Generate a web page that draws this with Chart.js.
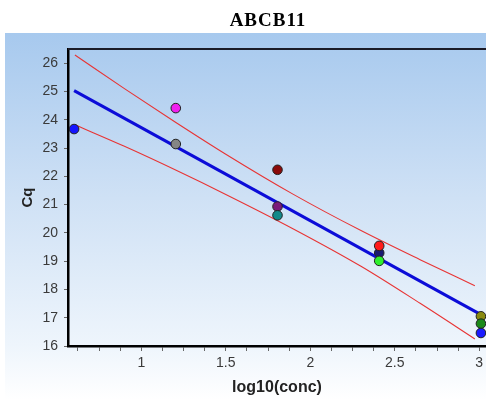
<!DOCTYPE html>
<html>
<head>
<meta charset="utf-8">
<script src="https://cdn.jsdelivr.net/npm/chart.js@4.4.1/dist/chart.umd.min.js"></script>
<style>
  html, body { margin: 0; padding: 0; background: #fff; }
  #wrap { position: relative; width: 486px; height: 409px; }
</style>
</head>
<body>
<div id="wrap"><canvas id="stdCurve" width="486" height="409"></canvas></div>
<script>
// standard curve: Cq vs log10 of the dilution
const geneName = "ABCB11";

const concLog = [0.602, 1.204, 1.204, 1.806, 1.806, 1.806, 2.408, 2.408, 2.408, 3.01, 3.01, 3.01];
const cqValues = [23.67, 24.41, 23.14, 22.23, 20.93, 20.62, 19.29, 19.54, 19.01, 17.05, 16.79, 16.46];
const wellColors = [
  "#1515ff", "#f020f0", "#858585", "#8b0a0a", "#7a1a7a", "#138a8a",
  "#1a1a70", "#ff1a1a", "#2ef02e", "#8a8a10", "#1a8a1a", "#1a1aff",
];

// fitted line
const fitX = [0.602, 3.01];
const fitCq = [25.03, 17.11];

// confidence band
const bandX = [0.607, 0.9, 1.2, 1.5, 1.9, 2.3, 2.65, 2.974];
const bandUpper = [26.29, 25.1, 23.92, 22.78, 21.36, 20.08, 19.05, 18.13];
const bandLower = [23.82, 23.06, 22.23, 21.36, 20.14, 18.82, 17.51, 16.25];

const xTicks = [0.625, 0.75, 0.875, 1, 1.125, 1.25, 1.375, 1.5, 1.625, 1.75, 1.875, 2,
  2.125, 2.25, 2.375, 2.5, 2.625, 2.75, 2.875, 3];
const xLabeled = [1, 1.5, 2, 2.5, 3];
const yTicks = [16, 17, 18, 19, 20, 21, 22, 23, 24, 25, 26];

const toXY = (xs, ys) => xs.map((x, i) => ({ x, y: ys[i] }));

const backdrop = {
  id: "backdrop",
  beforeDraw(chart) {
    const { ctx, width, height } = chart;
    ctx.save();
    ctx.fillStyle = "#fff";
    ctx.fillRect(0, 0, width, height);
    const g = ctx.createLinearGradient(0, 33, 0, 400);
    g.addColorStop(0, "#a7c9ee");
    g.addColorStop(0.45, "#cfe1f5");
    g.addColorStop(0.85, "#eef5fc");
    g.addColorStop(1, "#ffffff");
    ctx.fillStyle = g;
    ctx.fillRect(5, 33, width - 5, height - 33);

    ctx.fillStyle = "#000";
    ctx.font = "bold 19px 'Liberation Serif', 'Times New Roman', serif";
    ctx.textAlign = "center";
    ctx.textBaseline = "middle";
    if ("letterSpacing" in ctx) ctx.letterSpacing = "1px";
    ctx.fillText(geneName, 268, 21);
    ctx.restore();
  },
  afterDraw(chart) {
    const { ctx, chartArea } = chart;
    ctx.save();
    ctx.strokeStyle = "#1c1c28";
    ctx.lineWidth = 2;
    ctx.beginPath();
    ctx.moveTo(chartArea.left, chartArea.top);
    ctx.lineTo(chartArea.right, chartArea.top);
    ctx.stroke();
    ctx.restore();
  },
};

new Chart(document.getElementById("stdCurve"), {
  type: "scatter",
  data: {
    datasets: [
      {
        label: "wells",
        data: toXY(concLog, cqValues),
        pointRadius: 4.8,
        pointHoverRadius: 4.8,
        pointBackgroundColor: wellColors,
        pointBorderColor: "#222",
        pointBorderWidth: 1,
        showLine: false,
        clip: false,
      },
      {
        label: "fit",
        type: "line",
        data: toXY(fitX, fitCq),
        borderColor: "#0c0cd8",
        borderWidth: 3,
        pointRadius: 0,
        fill: false,
      },
      {
        label: "upper",
        type: "line",
        data: toXY(bandX, bandUpper),
        borderColor: "#e83434",
        borderWidth: 1.1,
        pointRadius: 0,
        cubicInterpolationMode: "monotone",
        fill: false,
      },
      {
        label: "lower",
        type: "line",
        data: toXY(bandX, bandLower),
        borderColor: "#e83434",
        borderWidth: 1.1,
        pointRadius: 0,
        cubicInterpolationMode: "monotone",
        fill: false,
      },
    ],
  },
  options: {
    responsive: false,
    animation: false,
    layout: { autoPadding: false, padding: { top: 49, left: 0, right: 0, bottom: 0 } },
    plugins: {
      legend: { display: false },
      tooltip: { enabled: false },
      title: { display: false },
    },
    scales: {
      x: {
        type: "linear",
        min: 0.566,
        max: 3.04,
        afterFit: (s) => {
          s.height = 63;
          s.paddingLeft = 0;
          s.paddingRight = 0;
        },
        afterBuildTicks: (s) => { s.ticks = xTicks.map((v) => ({ value: v })); },
        border: { display: true, color: "#000", width: 2.5 },
        grid: { drawOnChartArea: false, drawTicks: true, tickLength: 5, color: "#666" },
        ticks: {
          autoSkip: false,
          maxRotation: 0,
          padding: 4,
          color: "#3a3a3a",
          font: { family: "'Liberation Sans', Arial, sans-serif", size: 14 },
          callback: (v) => (xLabeled.includes(v) ? String(v) : ""),
        },
        title: {
          display: true,
          text: "log10(conc)",
          color: "#222",
          font: { family: "'Liberation Sans', Arial, sans-serif", size: 16, weight: "bold" },
          padding: { top: 0, bottom: 12 },
        },
      },
      y: {
        type: "linear",
        min: 16,
        max: 26.5,
        afterFit: (s) => {
          s.width = 68;
          s.paddingTop = 0;
          s.paddingBottom = 0;
        },
        afterBuildTicks: (s) => { s.ticks = yTicks.map((v) => ({ value: v })); },
        border: { display: true, color: "#000", width: 2.5 },
        grid: { drawOnChartArea: false, drawTicks: true, tickLength: 4, color: "#666" },
        ticks: {
          padding: 6,
          color: "#3a3a3a",
          font: { family: "'Liberation Sans', Arial, sans-serif", size: 14 },
        },
        title: {
          display: true,
          text: "Cq",
          color: "#222",
          font: { family: "'Liberation Sans', Arial, sans-serif", size: 15, weight: "bold" },
          padding: { top: 19, bottom: 0 },
        },
      },
    },
  },
  plugins: [backdrop],
});
</script>
</body>
</html>
